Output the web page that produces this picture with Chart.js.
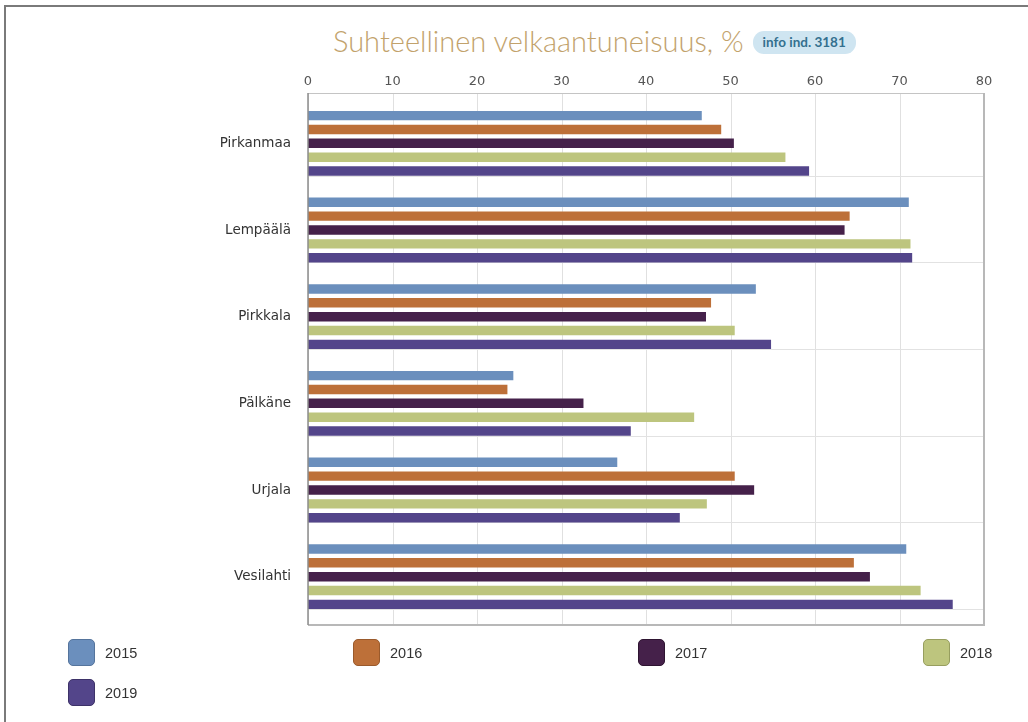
<!DOCTYPE html>
<html>
<head>
<meta charset="utf-8">
<script src="https://cdn.jsdelivr.net/npm/chart.js@4.4.1/dist/chart.umd.min.js"></script>
<style>
  html, body { margin: 0; padding: 0; background: #fff; }
  #wrap { position: relative; width: 1028px; height: 722px; overflow: hidden; }
  #pageEdge { position: absolute; left: 4px; top: 5px; right: -10px; bottom: -10px;
    border-left: 2px solid #7a7a7a; border-top: 2px solid #7a7a7a; }
  #title { position: absolute; left: 333px; top: 22px; height: 36px; display: flex; align-items: center;
    font-family: Lato, "Open Sans", sans-serif; font-size: 29px; font-weight: 300; color: #c2a26c; white-space: nowrap; }
  #title .badge { display: inline-block; margin-left: 9px; margin-top: 4px; background: #cfe5f1; color: #34708f;
    font-size: 13.5px; font-weight: bold; padding: 3px 10px 4px; border-radius: 11px; }
  #legend { position: absolute; left: 68px; top: 638px; display: grid;
    grid-template-columns: 285px 285px 285px 285px; row-gap: 11px; }
  #legend .item { display: flex; align-items: center; height: 29px; }
  #legend .box { width: 27px; height: 27px; border-radius: 5px; box-sizing: border-box; }
  #legend .lbl { margin-left: 10px; font-family: "Liberation Sans", Arial, sans-serif; font-size: 14.5px; color: #333; }
  canvas { position: absolute; left: 0; top: 0; }
</style>
</head>
<body>
<div id="wrap">
  <div id="pageEdge"></div>
  <div id="title">Suhteellinen velkaantuneisuus, %<span class="badge">info ind. 3181</span></div>
  <canvas id="chart" width="1028" height="722"></canvas>
  <div id="legend"></div>
</div>
<script>
// data
const areas = ['Pirkanmaa', 'Lempäälä', 'Pirkkala', 'Pälkäne', 'Urjala', 'Vesilahti'];
const years = ['2015', '2016', '2017', '2018', '2019'];
const v2015 = [46.6, 71.1, 53.0, 24.3, 36.6, 70.8];
const v2016 = [48.9, 64.1, 47.7, 23.6, 50.5, 64.6];
const v2017 = [50.4, 63.5, 47.1, 32.6, 52.8, 66.5];
const v2018 = [56.5, 71.3, 50.5, 45.7, 47.2, 72.5];
const v2019 = [59.3, 71.5, 54.8, 38.2, 44.0, 76.3];
const xMin = 0, xMax = 80, xStep = 10;

const fills = ['#6b8fbd', '#bd7039', '#45214a', '#bdc57e', '#53458a'];
const edges = ['#55749c', '#9a5a2c', '#2e1431', '#979e5f', '#3d3268'];

const values = [v2015, v2016, v2017, v2018, v2019];

//gridlines and plot frame like the original (frame sits a bit outside the category bands)
const framePlugin = {
  id: 'frame',
  beforeDatasetsDraw(chart) {
    const ctx = chart.ctx;
    const xs = chart.scales.x;
    const area = chart.chartArea;
    const top = area.top - 7, bottom = area.bottom + 5;
    ctx.save();
    ctx.lineWidth = 1;
    ctx.strokeStyle = '#e0e0e0';
    xs.ticks.forEach(t => {
      const x = Math.round(xs.getPixelForValue(t.value)) + 0.5;
      ctx.beginPath(); ctx.moveTo(x, top); ctx.lineTo(x, bottom); ctx.stroke();
    });
    // row lines under the last bar of every group
    const meta = chart.getDatasetMeta(chart.data.datasets.length - 1);
    ctx.strokeStyle = '#e2e2e2';
    meta.data.forEach(bar => {
      const y = Math.round(bar.y + bar.height / 2) + 0.5;
      ctx.beginPath(); ctx.moveTo(area.left, y); ctx.lineTo(area.right, y); ctx.stroke();
    });
    ctx.restore();
  },
  afterDatasetsDraw(chart) {
    const ctx = chart.ctx;
    const area = chart.chartArea;
    const top = area.top - 7, bottom = area.bottom + 5;
    ctx.save();
    ctx.lineWidth = 1;
    ctx.strokeStyle = '#c4c4c4';
    ctx.beginPath(); ctx.moveTo(area.left, top + 0.5); ctx.lineTo(area.right, top + 0.5); ctx.stroke();
    ctx.lineWidth = 2;
    ctx.strokeStyle = '#b8b8b8';
    ctx.beginPath(); ctx.moveTo(area.right, top); ctx.lineTo(area.right, bottom); ctx.stroke();
    ctx.beginPath(); ctx.moveTo(area.left, bottom); ctx.lineTo(area.right + 1, bottom); ctx.stroke();
    ctx.lineWidth = 1.5;
    ctx.strokeStyle = '#8c8c8c';
    ctx.beginPath(); ctx.moveTo(area.left, top); ctx.lineTo(area.left, bottom); ctx.stroke();
    ctx.restore();
  }
};

const data = {
  labels: areas,
  datasets: years.map((y, i) => ({
    label: y,
    data: values[i],
    backgroundColor: fills[i],
    borderWidth: 0,
    barPercentage: 0.68,
    categoryPercentage: 0.8
  }))
};

const config = {
  type: 'bar',
  data: data,
  plugins: [framePlugin],
  options: {
    indexAxis: 'y',
    responsive: false,
    animation: false,
    layout: { padding: { left: 0, right: 44, top: 0, bottom: 102 } },
    plugins: {
      legend: { display: false },
      title: { display: false },
      tooltip: { enabled: false }
    },
    scales: {
      x: {
        position: 'top',
        min: xMin,
        max: xMax,
        ticks: {
          stepSize: xStep,
          color: '#555',
          padding: 11,
          font: { family: 'DejaVu Sans', size: 13 }
        },
        grid: { display: false, drawTicks: false },
        border: { display: false },
        afterFit: s => { s.height = 100; }
      },
      y: {
        ticks: {
          color: '#333',
          padding: 17,
          font: { family: 'DejaVu Sans', size: 13.5 }
        },
        grid: { display: false, drawTicks: false },
        border: { display: false },
        afterFit: s => { s.width = 308; }
      }
    }
  }
};

new Chart(document.getElementById('chart'), config);

// html legend laid out in a grid like the original
const legend = document.getElementById('legend');
years.forEach((y, i) => {
  const item = document.createElement('div');
  item.className = 'item';
  const box = document.createElement('div');
  box.className = 'box';
  box.style.background = fills[i];
  box.style.border = '1.5px solid ' + edges[i];
  const lbl = document.createElement('span');
  lbl.className = 'lbl';
  lbl.textContent = y;
  item.appendChild(box);
  item.appendChild(lbl);
  legend.appendChild(item);
});
</script>
</body>
</html>
